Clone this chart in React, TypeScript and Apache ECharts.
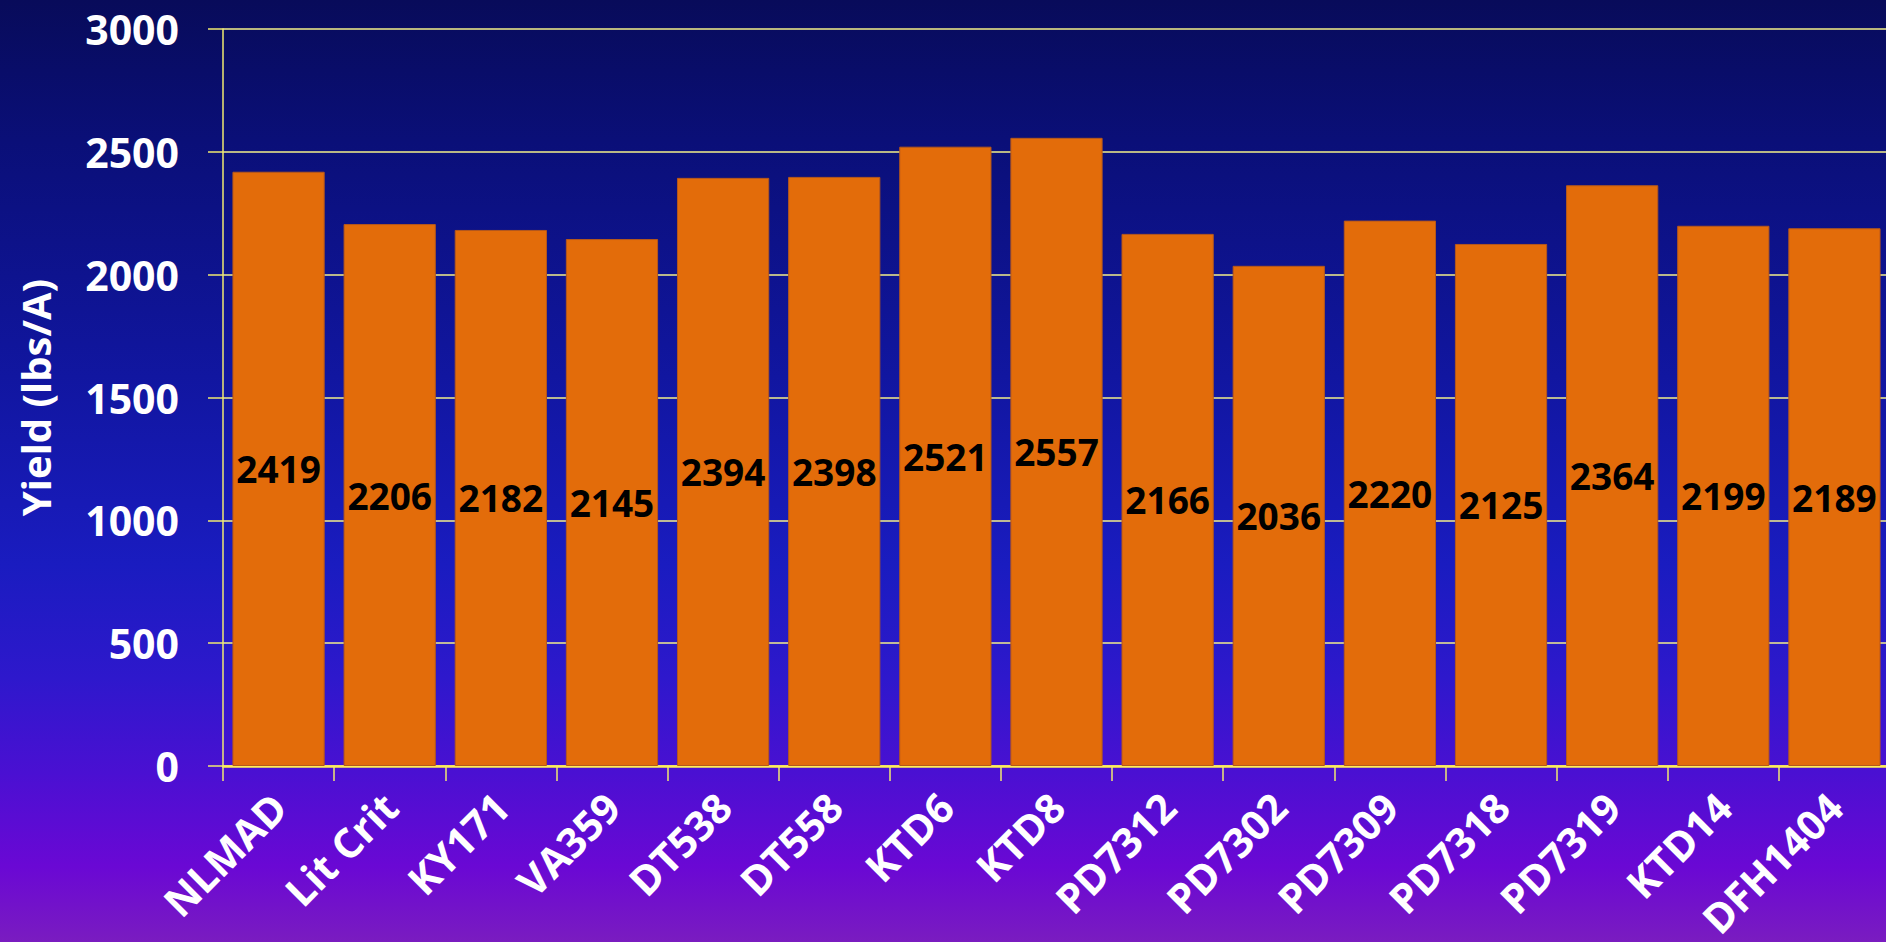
import React, { useEffect, useRef } from "react";
import * as echarts from "echarts";

const categories = [
  "NLMAD", "Lit Crit", "KY171", "VA359", "DT538", "DT558", "KTD6", "KTD8",
  "PD7312", "PD7302", "PD7309", "PD7318", "PD7319", "KTD14", "DFH1404",
];
const yields = [
  2419, 2206, 2182, 2145, 2394, 2398, 2521, 2557,
  2166, 2036, 2220, 2125, 2364, 2199, 2189,
];
const yAxisTitle = "Yield (lbs/A)";
const yMin = 0;
const yMax = 3000;
const yStep = 500;

const FONT = "'Open Sans', 'DejaVu Sans', sans-serif";

export default function App() {
  const ref = useRef<HTMLDivElement>(null);
  useEffect(() => {
    if (!ref.current) return;
    const chart = echarts.init(ref.current, null, { renderer: "svg" });
    chart.setOption({
      animation: false,
      backgroundColor: new echarts.graphic.LinearGradient(0, 0, 0, 1, [
        { offset: 0, color: "#080b5a" },
        { offset: 0.15, color: "#0a0f78" },
        { offset: 0.4, color: "#1116a0" },
        { offset: 0.6, color: "#1a1cc0" },
        { offset: 0.72, color: "#2e18cc" },
        { offset: 0.82, color: "#4a10d2" },
        { offset: 0.92, color: "#6a08d4" },
        { offset: 1, color: "#7a1cc0" },
      ]),
      grid: {
        left: 223,
        right: -4,
        top: 29,
        bottom: 176,
        containLabel: false,
        outerBoundsMode: "none",
      },
      xAxis: {
        type: "category",
        data: categories,
        boundaryGap: true,
        axisLine: { show: true, lineStyle: { color: "#ffee55", width: 2.5 } },
        axisTick: { show: true, length: 15, lineStyle: { color: "#f0ea70", width: 1.5 } },
        axisLabel: {
          interval: 0,
          rotate: 45,
          margin: 5,
          padding: [0, 20, 0, 0],
          color: "#ffffff",
          fontFamily: FONT,
          fontWeight: "bold",
          fontSize: 41,
          align: "right",
          verticalAlign: "top",
          hideOverlap: false,
        },
        splitLine: { show: false },
      },
      yAxis: {
        type: "value",
        min: yMin,
        max: yMax,
        interval: yStep,
        name: yAxisTitle,
        nameLocation: "middle",
        nameRotate: 90,
        nameGap: 168,
        nameTextStyle: {
          color: "#ffffff",
          fontFamily: FONT,
          fontWeight: "bold",
          fontSize: 40,
        },
        axisLine: { show: true, lineStyle: { color: "#f0ea70", width: 1.5 } },
        axisTick: { show: true, length: 15, lineStyle: { color: "#f0ea70", width: 1.5 } },
        axisLabel: {
          margin: 44,
          color: "#ffffff",
          fontFamily: FONT,
          fontWeight: "bold",
          fontSize: 41,
          formatter: (v: number) => String(v),
        },
        splitLine: { show: true, lineStyle: { color: "#f5f08a", width: 1.5 } },
      },
      series: [
        {
          type: "bar",
          data: yields,
          barCategoryGap: "17%",
          itemStyle: { color: "#e36c0a", borderColor: "#b5581c", borderWidth: 1 },
          label: {
            show: true,
            position: "inside",
            color: "#000000",
            fontFamily: FONT,
            fontWeight: "bold",
            fontSize: 37,
          },
        },
      ],
    });
    return () => chart.dispose();
  }, []);
  return (
    <div
      ref={ref}
      style={{ position: "fixed", left: 0, top: 0, width: 1886, height: 942 }}
    />
  );
}
